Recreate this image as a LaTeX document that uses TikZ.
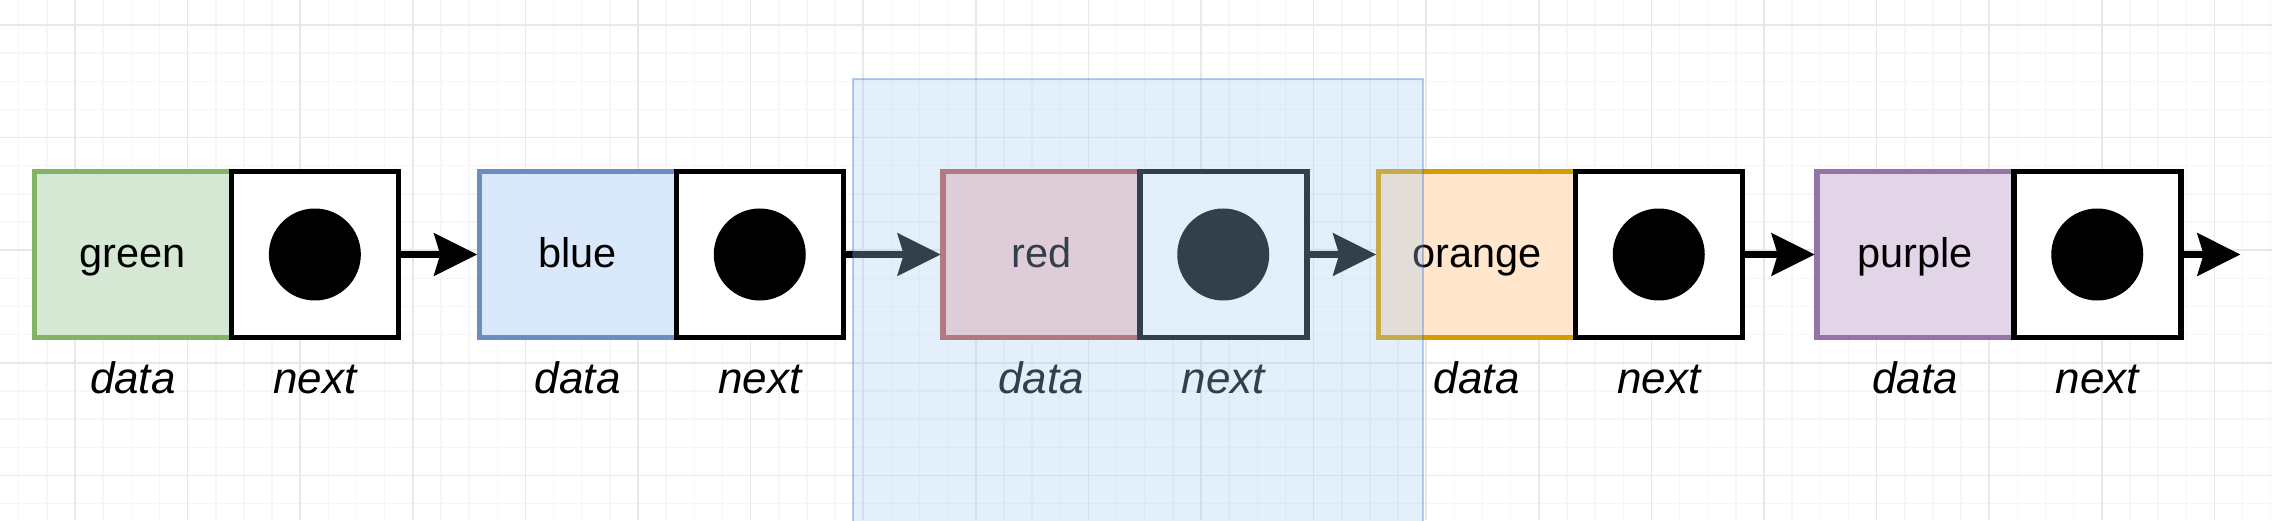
\documentclass[tikz,border=0pt]{standalone}
\usepackage{fontspec}
\setmainfont{Liberation Sans}
\usetikzlibrary{positioning}
\usetikzlibrary{arrows.meta}

\definecolor{greenfill}{HTML}{D5E8D4}
\definecolor{greenline}{HTML}{82B366}
\definecolor{bluefill}{HTML}{DAE8FC}
\definecolor{blueline}{HTML}{6C8EBF}
\definecolor{redfill}{HTML}{F8CECC}
\definecolor{redline}{HTML}{B85450}
\definecolor{orangefill}{HTML}{FFE6CC}
\definecolor{orangeline}{HTML}{D79B00}
\definecolor{purplefill}{HTML}{E1D5E7}
\definecolor{purpleline}{HTML}{9673A6}
\definecolor{focusfill}{RGB}{165,204,242}
\definecolor{focusline}{RGB}{40,90,210}
\definecolor{gridmajor}{HTML}{E8E8E8}
\definecolor{gridminor}{HTML}{F6F6F6}

\tikzset{
    cell/.style     = {draw, line width=5.5pt, minimum height=165.5pt, inner sep=0pt, outer sep=0pt,
                       text height=30pt, text depth=3pt, font=\fontsize{41.5}{48}\selectfont},
    datacell/.style = {cell, minimum width=197pt},
    nextcell/.style = {cell, draw=black, fill=white, minimum width=167pt},
    caption/.style  = {anchor=base, inner sep=0pt, font=\fontsize{44}{50}\selectfont\itshape},
    link/.style     = {-{Stealth[length=43pt 0 0, width=42pt 0 0, inset=6pt 0]}, line width=7.5pt, shorten >=2pt},
    minorgrid/.style = {draw=gridminor, line width=1.5pt},
    majorgrid/.style = {draw=gridmajor, line width=1.5pt},
    focusbox/.style = {fill=focusfill, fill opacity=0.31, draw=focusline, draw opacity=0.31, line width=2pt},
}

\begin{document}
\begin{tikzpicture}[x=1pt, y=1pt]
            \useasboundingbox[fill=white] (0, 0) rectangle (2272, 520);

            % draw background grid
            \foreach \k in {0,...,80}
                \draw[minorgrid] ({18.7 + 28.15*\k}, 0) -- ({18.7 + 28.15*\k}, 520);
            \foreach \k in {0,...,17}
                \draw[minorgrid] (0, {495 - 28.15*\k}) -- (2272, {495 - 28.15*\k});
            \foreach \k in {0,...,19}
                \draw[majorgrid] ({75 + 112.6*\k}, 0) -- ({75 + 112.6*\k}, 520);
            \foreach \k in {0,...,4}
                \draw[majorgrid] (0, {495 - 112.6*\k}) -- (2272, {495 - 112.6*\k});

            % draw list nodes
            \node[datacell, fill=greenfill,  draw=greenline]  (gdata) at ( 132.85, 265.5) {green};
            \node[nextcell, right=0pt of gdata] (gnext) {};
            \node[datacell, fill=bluefill,   draw=blueline]   (bdata) at ( 577.75, 265.5) {blue};
            \node[nextcell, right=0pt of bdata] (bnext) {};
            \node[datacell, fill=redfill,    draw=redline]    (rdata) at (1041.25, 265.5) {red};
            \node[nextcell, right=0pt of rdata] (rnext) {};
            \node[datacell, fill=orangefill, draw=orangeline] (odata) at (1476.75, 265.5) {orange};
            \node[nextcell, right=0pt of odata] (onext) {};
            \node[datacell, fill=purplefill, draw=purpleline] (pdata) at (1915.25, 265.5) {purple};
            \node[nextcell, right=0pt of pdata] (pnext) {};

            % draw pointer dots and captions
            \foreach \n in {g, b, r, o, p} {
                \fill (\n next.center) circle (46pt);
                \node[caption] (\n datacap) at ([yshift=-56pt] \n data.south) {data};
                \node[caption] (\n nextcap) at ([yshift=-56pt] \n next.south) {next};
            }

            % draw links
            \coordinate (tail) at (2240.6, 265.5);
            \draw[link] (gnext) -- (bdata);
            \draw[link] (bnext) -- (rdata);
            \draw[link] (rnext) -- (odata);
            \draw[link] (onext) -- (pdata);
            \draw[link, shorten >=0pt] (pnext) -- (tail);

            % draw highlight box over red node
            \filldraw[focusbox] (853, 441) rectangle (1423, -10);
        \end{tikzpicture}
\end{document}
